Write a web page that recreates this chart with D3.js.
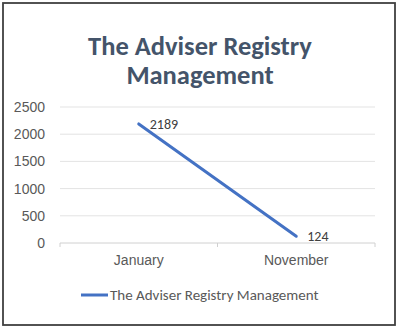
<!DOCTYPE html>
<html><head><meta charset="utf-8">
<script src="https://cdn.jsdelivr.net/npm/d3@7"></script>
<style>
html,body{margin:0;padding:0;background:#fff;}
svg{display:block;font-family:Carlito,Lato,"Open Sans",sans-serif;}
</style></head>
<body>
<script>
const categories = ["January", "November"];
const seriesName = "The Adviser Registry Management";
const values = [2189, 124];
const yTicks = [0, 500, 1000, 1500, 2000, 2500];
const titleLines = ["The Adviser Registry", "Management"];

const W = 400, H = 328;
const svg = d3.select("body").append("svg").attr("width", W).attr("height", H);
svg.append("rect").attr("x", 0).attr("y", 0).attr("width", W).attr("height", H).attr("fill", "#fff");
svg.append("rect").attr("x", 3).attr("y", 3).attr("width", 392).attr("height", 322)
  .attr("fill", "none").attr("stroke", "#404040").attr("stroke-width", 1.8);

const plot = {left: 60, right: 375, top: 107, bottom: 243};
const x = d3.scaleBand().domain(categories).range([plot.left, plot.right]);
const y = d3.scaleLinear().domain([0, 2500]).range([plot.bottom, plot.top]);

// title
svg.append("text").attr("x", 200).attr("text-anchor", "middle")
  .attr("font-size", 26.5).attr("font-weight", "bold").attr("fill", "#44546A")
  .selectAll("tspan").data(titleLines).join("tspan")
  .attr("x", 200).attr("y", (d, i) => 55 + i * 29).text(d => d);

// gridlines
svg.append("g").selectAll("line").data(yTicks).join("line")
  .attr("x1", plot.left).attr("x2", plot.right)
  .attr("y1", d => y(d)).attr("y2", d => y(d))
  .attr("stroke", d => d === 0 ? "#d0d0d0" : "#e3e3e3").attr("stroke-width", 1);

// y axis labels
const yAxis = d3.axisLeft(y).tickValues(yTicks).tickFormat(d3.format("d")).tickSize(0).tickPadding(15);
const ya = svg.append("g").attr("transform", `translate(${plot.left},0)`).call(yAxis);
ya.select(".domain").remove();
ya.selectAll("text").attr("font-size", 14).attr("fill", "#595959").attr("font-family", null);

// x axis
const xAxis = d3.axisBottom(x).tickSize(0).tickPadding(12);
const xa = svg.append("g").attr("transform", `translate(0,${plot.bottom})`).call(xAxis);
xa.select(".domain").remove();
xa.selectAll("text").attr("font-size", 14).attr("fill", "#595959").attr("font-family", null);
// category boundary ticks
const bounds = [plot.left, ...categories.slice(1).map(c => x(c)), plot.right];
svg.append("g").selectAll("line").data(bounds).join("line")
  .attr("x1", d => d).attr("x2", d => d).attr("y1", plot.bottom).attr("y2", plot.bottom + 4)
  .attr("stroke", "#d0d0d0");

// line
const pts = categories.map((c, i) => [x(c) + x.bandwidth() / 2, y(values[i])]);
svg.append("path").datum(pts).attr("d", d3.line())
  .attr("fill", "none").attr("stroke", "#4472C4").attr("stroke-width", 3).attr("stroke-linecap", "round");

// data labels
svg.append("g").selectAll("text").data(pts).join("text")
  .attr("x", d => d[0] + 11).attr("y", d => d[1] + 5)
  .attr("font-size", 14).attr("fill", "#404040").text((d, i) => values[i]);

// legend
svg.append("line").attr("x1", 81).attr("x2", 108).attr("y1", 295).attr("y2", 295)
  .attr("stroke", "#4472C4").attr("stroke-width", 3);
svg.append("text").attr("x", 110).attr("y", 300).attr("font-size", 15).attr("fill", "#595959").text(seriesName);
</script>
</body></html>
